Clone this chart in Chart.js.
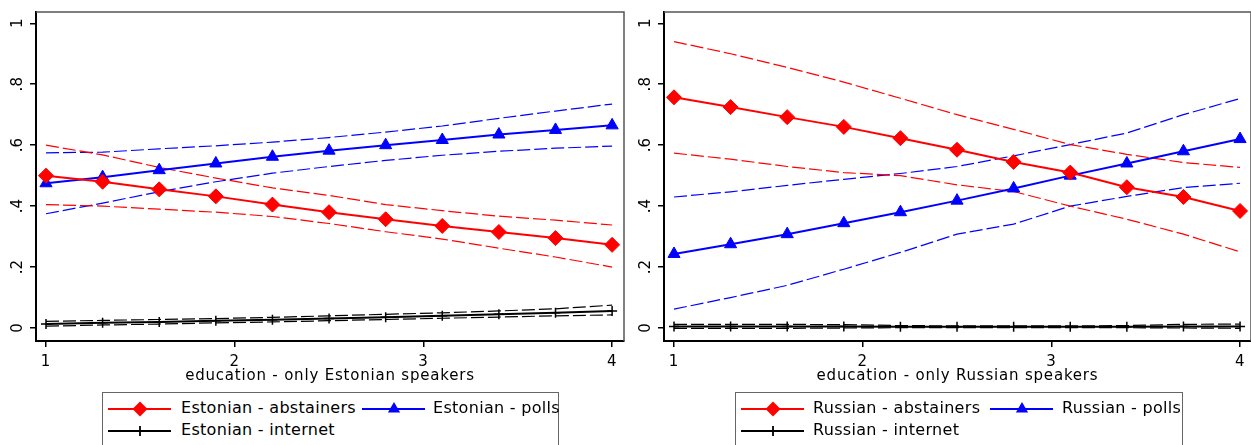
<!DOCTYPE html>
<html><head><meta charset="utf-8">
<script src="https://cdn.jsdelivr.net/npm/chart.js@4.4.0/dist/chart.umd.min.js"></script>
<style>
html,body{margin:0;padding:0;background:#fff;overflow:hidden;width:1251px;height:445px;position:relative}
canvas{position:absolute;top:0}
#c1{left:0}
#c2{left:626px}
.legend{position:absolute;top:392px;height:70px;border:1.5px solid #666;box-sizing:border-box;background:#fff}
.item{position:absolute;font-family:"DejaVu Sans";font-size:16px;letter-spacing:0.3px;white-space:nowrap;color:#000;line-height:20px}
svg.sym{position:absolute;overflow:visible}
</style></head><body>
<canvas id="c1" width="626" height="445"></canvas>
<canvas id="c2" width="625" height="445"></canvas>
<div id="legends"></div>
<script>
// ---- data ----
const educ = [1, 1.3, 1.6, 1.9, 2.2, 2.5, 2.8, 3.1, 3.4, 3.7, 4];
const xTicks = [1, 2, 3, 4];
const yTickValues = [0, 0.2, 0.4, 0.6, 0.8, 1];
const yTickLabels = ['0', '.2', '.4', '.6', '.8', '1'];

const estAbst   = [0.500, 0.480, 0.455, 0.432, 0.405, 0.380, 0.357, 0.335, 0.315, 0.295, 0.273];
const estAbstHi = [0.600, 0.568, 0.527, 0.492, 0.460, 0.435, 0.405, 0.385, 0.367, 0.354, 0.338];
const estAbstLo = [0.405, 0.400, 0.390, 0.380, 0.366, 0.343, 0.316, 0.292, 0.262, 0.233, 0.200];
const estPolls   = [0.475, 0.495, 0.518, 0.540, 0.562, 0.582, 0.600, 0.617, 0.635, 0.650, 0.665];
const estPollsHi = [0.575, 0.577, 0.588, 0.598, 0.610, 0.625, 0.643, 0.663, 0.688, 0.712, 0.735];
const estPollsLo = [0.375, 0.410, 0.447, 0.480, 0.508, 0.530, 0.550, 0.567, 0.580, 0.590, 0.597];
const estNet   = [0.013, 0.017, 0.020, 0.024, 0.027, 0.031, 0.035, 0.040, 0.045, 0.050, 0.056];
const estNetHi = [0.022, 0.025, 0.028, 0.031, 0.035, 0.040, 0.045, 0.050, 0.056, 0.063, 0.075];
const estNetLo = [0.006, 0.010, 0.013, 0.017, 0.020, 0.024, 0.028, 0.032, 0.036, 0.040, 0.043];

const rusAbst   = [0.757, 0.725, 0.692, 0.660, 0.623, 0.585, 0.545, 0.510, 0.462, 0.430, 0.384];
const rusAbstHi = [0.940, 0.900, 0.855, 0.807, 0.754, 0.700, 0.652, 0.602, 0.570, 0.543, 0.527];
const rusAbstLo = [0.574, 0.554, 0.530, 0.510, 0.500, 0.470, 0.448, 0.400, 0.357, 0.308, 0.250];
const rusPolls   = [0.243, 0.275, 0.308, 0.344, 0.380, 0.418, 0.458, 0.500, 0.540, 0.580, 0.620];
const rusPollsHi = [0.430, 0.447, 0.468, 0.488, 0.507, 0.530, 0.565, 0.602, 0.640, 0.700, 0.753];
const rusPollsLo = [0.062, 0.100, 0.140, 0.193, 0.248, 0.308, 0.341, 0.400, 0.432, 0.461, 0.475];
const rusNet   = [0.005, 0.005, 0.005, 0.005, 0.004, 0.004, 0.004, 0.004, 0.004, 0.005, 0.005];
const rusNetHi = [0.012, 0.012, 0.012, 0.011, 0.008, 0.007, 0.007, 0.007, 0.008, 0.012, 0.013];
const rusNetLo = [-0.001, -0.001, -0.001, 0.000, 0.001, 0.001, 0.001, 0.001, 0.001, 0.000, -0.001];

const legendEst = ['Estonian - abstainers', 'Estonian - polls', 'Estonian - internet'];
const legendRus = ['Russian - abstainers', 'Russian - polls', 'Russian - internet'];
const xTitles = ['education - only Estonian speakers', 'education - only Russian speakers'];

// ---- styling ----
const RED = '#ff0000', BLUE = '#0000ff', BLACK = '#000000';
const FONT = 'DejaVu Sans';

function pts(arr) { return educ.map((x, i) => ({x, y: arr[i]})); }
function mainDs(arr, color, style, radius, order) {
  return {data: pts(arr), borderColor: color, backgroundColor: color, borderWidth: 2,
    pointStyle: style, pointRadius: radius, pointBackgroundColor: color, pointBorderColor: color,
    pointBorderWidth: style === 'cross' ? 1.5 : 1, tension: 0, order};
}
function ciDs(arr, color, order) {
  return {data: pts(arr), borderColor: color, borderWidth: 1.2, borderDash: [13, 4],
    pointRadius: 0, tension: 0, order};
}

const panelPlugin = {
  id: 'panel',
  beforeDraw(chart) { chart.ctx.letterSpacing = '0.8px'; },
  afterDraw(chart) {
    const {ctx, chartArea: a, scales: {y}} = chart;
    ctx.save();
    ctx.letterSpacing = '0px';
    ctx.strokeStyle = '#555'; ctx.lineWidth = 1.5;
    ctx.beginPath(); ctx.moveTo(a.left, a.top); ctx.lineTo(a.right, a.top); ctx.lineTo(a.right, a.bottom); ctx.stroke();
    ctx.fillStyle = '#000'; ctx.font = '15px "' + FONT + '"';
    ctx.textAlign = 'center'; ctx.textBaseline = 'middle';
    y.ticks.forEach((t, i) => {
      const py = y.getPixelForValue(t.value);
      ctx.save(); ctx.translate(a.left - 18, py); ctx.rotate(-Math.PI / 2);
      ctx.fillText(yTickLabels[i], 0, 0); ctx.restore();
    });
    ctx.restore();
    chart.ctx.letterSpacing = '0px';
  }
};

function makeChart(id, datasets, xTitle, yAxisW, padR, xMax) {
  return new Chart(document.getElementById(id), {
    type: 'line',
    data: {datasets},
    plugins: [panelPlugin],
    options: {
      responsive: false, animation: false, devicePixelRatio: 1,
      layout: {autoPadding: false, padding: {left: 0, right: padR, top: 12, bottom: 56}},
      plugins: {legend: {display: false}, tooltip: {enabled: false}},
      scales: {
        x: {type: 'linear', min: 0.947, max: xMax,
          afterBuildTicks: s => { s.ticks = xTicks.map(v => ({value: v})); },
          ticks: {font: {family: FONT, size: 15}, color: '#000', padding: 6, maxRotation: 0, autoSkip: false,
            callback: v => String(v)},
          grid: {drawOnChartArea: false, drawTicks: true, tickLength: 6, color: '#000', lineWidth: 1.5},
          border: {display: true, color: '#000', width: 2},
          title: {display: true, text: xTitle, font: {family: FONT, size: 15}, color: '#000', padding: {top: 0, bottom: 4}},
          afterFit: s => { s.height = 48; s.paddingLeft = 0; s.paddingRight = 0; }
        },
        y: {type: 'linear', min: -0.0426, max: 1.037,
          afterBuildTicks: s => { s.ticks = yTickValues.map(v => ({value: v})); },
          ticks: {color: 'rgba(0,0,0,0)', font: {family: FONT, size: 15}, callback: (v, i) => yTickLabels[i]},
          grid: {drawOnChartArea: false, drawTicks: true, tickLength: 6, color: '#000', lineWidth: 1.5},
          border: {display: true, color: '#000', width: 2},
          afterFit: s => { s.width = yAxisW; s.paddingTop = 0; s.paddingBottom = 0; }
        }
      }
    }
  });
}

makeChart('c1', [
  mainDs(estAbst, RED, 'rectRot', 7.5, 1),
  mainDs(estPolls, BLUE, 'triangle', 7, 2),
  mainDs(estNet, BLACK, 'cross', 5, 3),
  ciDs(estAbstHi, RED, 4), ciDs(estAbstLo, RED, 4),
  ciDs(estPollsHi, BLUE, 5), ciDs(estPollsLo, BLUE, 5),
  ciDs(estNetHi, BLACK, 6), ciDs(estNetLo, BLACK, 6)
], xTitles[0], 36, 2, 4.063);

makeChart('c2', [
  mainDs(rusAbst, RED, 'rectRot', 7.5, 1),
  mainDs(rusPolls, BLUE, 'triangle', 7, 2),
  mainDs(rusNet, BLACK, 'cross', 5, 3),
  ciDs(rusAbstHi, RED, 4), ciDs(rusAbstLo, RED, 4),
  ciDs(rusPollsHi, BLUE, 5), ciDs(rusPollsLo, BLUE, 5),
  ciDs(rusNetHi, BLACK, 6), ciDs(rusNetLo, BLACK, 6)
], xTitles[1], 38, 0, 4.058);

// ---- HTML legends ----
function symSvg(kind, color, x0, y0) {
  let m = '';
  const cx = 32, cy = 10;
  if (kind === 'diamond') m = `<polygon points="${cx},${cy-7.5} ${cx+7.5},${cy} ${cx},${cy+7.5} ${cx-7.5},${cy}" fill="${color}"/>`;
  if (kind === 'triangle') m = `<polygon points="${cx},${cy-7} ${cx+6.1},${cy+3.5} ${cx-6.1},${cy+3.5}" fill="${color}"/>`;
  if (kind === 'plus') m = `<path d="M${cx-5} ${cy}H${cx+5}M${cx} ${cy-5}V${cy+5}" stroke="${color}" stroke-width="1.8"/>`;
  return `<svg class="sym" style="left:${x0}px;top:${y0}px" width="63" height="20"><line x1="0" y1="${cy}" x2="63" y2="${cy}" stroke="${color}" stroke-width="2"/>${m}</svg>`;
}
function buildLegend(labels, box) {
  let h = `<div class="legend" style="left:${box.left}px;width:${box.width}px"></div>`;
  h += symSvg('diamond', RED, box.s1, 398.5);
  h += `<div class="item" style="left:${box.t1}px;top:398px">${labels[0]}</div>`;
  h += symSvg('triangle', BLUE, box.s2, 398.5);
  h += `<div class="item" style="left:${box.t2}px;top:398px">${labels[1]}</div>`;
  h += symSvg('plus', BLACK, box.s1, 421);
  h += `<div class="item" style="left:${box.t1}px;top:420px">${labels[2]}</div>`;
  return h;
}
document.getElementById('legends').innerHTML =
  buildLegend(legendEst, {left: 102, width: 457, s1: 108, t1: 181, s2: 362, t2: 433}) +
  buildLegend(legendRus, {left: 735, width: 448, s1: 741, t1: 813, s2: 990, t2: 1062});
</script>
</body></html>
